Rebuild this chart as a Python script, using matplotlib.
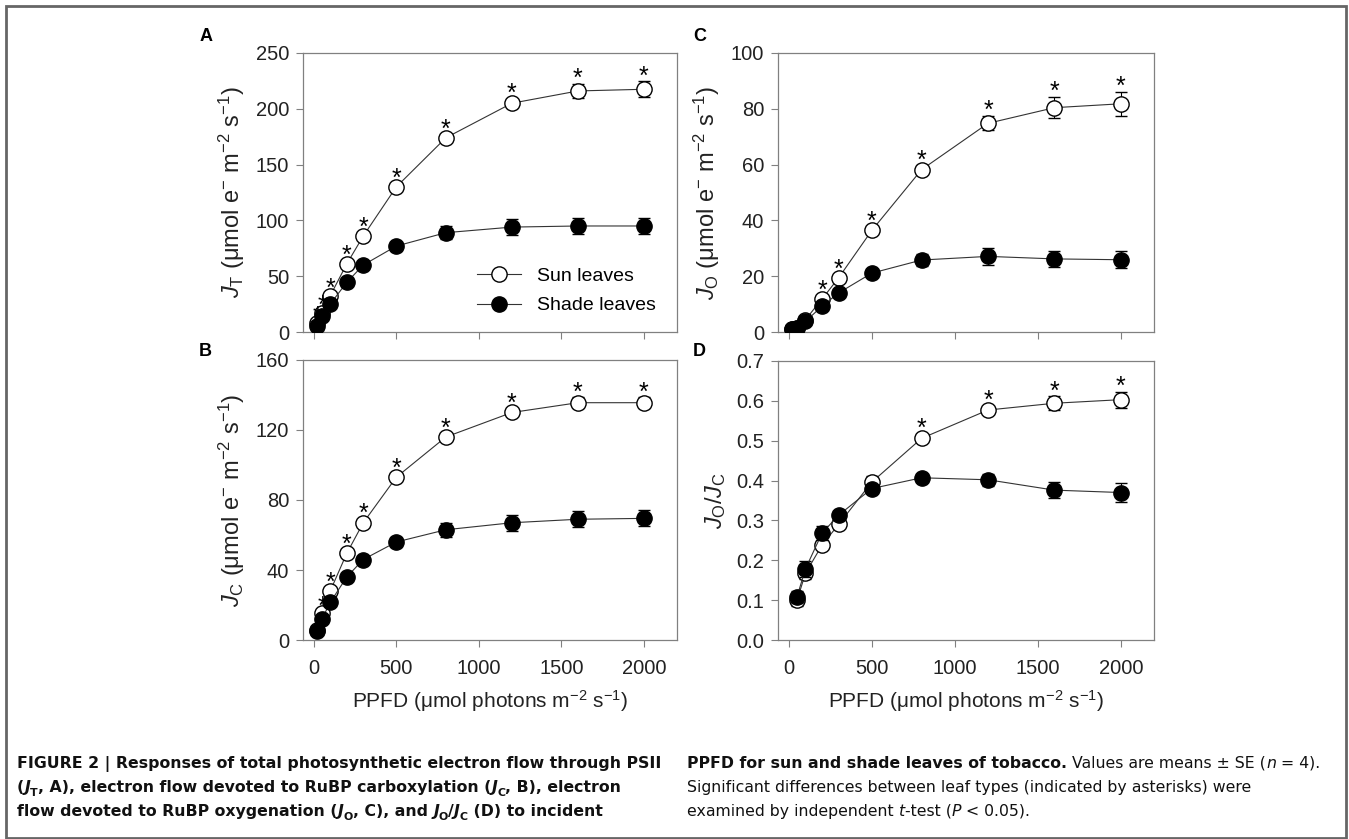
import numpy as np
import matplotlib
matplotlib.use('Agg')
import matplotlib.pyplot as plt
from matplotlib.lines import Line2D

plt.rcParams['font.family'] = ['Liberation Sans', 'DejaVu Sans']
plt.rcParams['mathtext.fontset'] = 'custom'
plt.rcParams['mathtext.rm'] = 'Liberation Sans'
plt.rcParams['mathtext.it'] = 'Liberation Sans:italic'
plt.rcParams['mathtext.bf'] = 'Liberation Sans:bold'

# data
ppfd = [20, 50, 100, 200, 300, 500, 800, 1200, 1600, 2000]

jt_sun = [8, 17, 32.5, 61, 86, 130, 174, 205, 216, 217.5]
jt_sun_se = [1, 1.5, 2, 2.5, 3, 3, 3, 4, 6, 7]
jt_shade = [5.7, 14, 25, 44.5, 60, 77, 89, 94, 95, 95]
jt_shade_se = [1, 1.5, 2, 2, 3, 4, 6, 7, 7, 7]
jt_star = [1, 1, 1, 1, 1, 1, 1, 1, 1, 1]

jc_sun = [6, 15.2, 28, 49.5, 67, 93, 116, 130, 135.6, 135.6]
jc_sun_se = [1, 1, 1.5, 2, 2, 2, 2, 2, 3, 3]
jc_shade = [5, 12, 21.5, 36, 46, 56, 63, 67, 69, 69.5]
jc_shade_se = [0.5, 1, 1, 1.5, 2, 3, 4, 4.5, 4.5, 4.5]
jc_star = [0, 1, 1, 1, 1, 1, 1, 1, 1, 1]

jo_sun = [1, 1.5, 4.4, 11.8, 19.4, 36.4, 58.2, 74.8, 80.4, 81.8]
jo_sun_se = [0.2, 0.3, 0.5, 1, 1, 1.2, 1.5, 2.5, 3.7, 4.4]
jo_shade = [1, 1.4, 3.8, 9.2, 14, 21.1, 25.8, 27.1, 26.2, 25.9]
jo_shade_se = [0.2, 0.3, 0.5, 0.8, 1, 1, 2, 3, 3, 3]
jo_star = [0, 0, 0, 1, 1, 1, 1, 1, 1, 1]

ratio_ppfd = [50, 100, 200, 300, 500, 800, 1200, 1600, 2000]
ratio_sun = [0.10, 0.167, 0.238, 0.29, 0.396, 0.506, 0.577, 0.594, 0.603]
ratio_sun_se = [0.015, 0.015, 0.01, 0.01, 0.015, 0.01, 0.01, 0.017, 0.02]
ratio_shade = [0.109, 0.178, 0.268, 0.313, 0.38, 0.407, 0.402, 0.376, 0.37]
ratio_shade_se = [0.015, 0.02, 0.018, 0.01, 0.01, 0.01, 0.015, 0.02, 0.025]
ratio_star = [0, 0, 0, 0, 0, 1, 1, 1, 1]

W, H = 1349, 839
fig = plt.figure(figsize=(W / 100, H / 100), dpi=100)

# figure border
fig.add_artist(plt.Rectangle((6 / W, 1 / H), 1340 / W, 832 / H, transform=fig.transFigure,
                             fill=False, edgecolor='#666666', lw=2))


def px_axes(l, t, r, b):
    return fig.add_axes([l / W, 1 - b / H, (r - l) / W, (b - t) / H])


axA = px_axes(303, 53, 677, 332)
axB = px_axes(303, 360, 677, 640)
axC = px_axes(778, 53, 1154, 332)
axD = px_axes(778, 361, 1154, 640)

spine_col = '#808080'


def panel(ax, x, sun, sun_se, shade, shade_se, star, ylim, yticks, ylabel, xlabels):
    ax.errorbar(x, sun, yerr=sun_se, fmt='-o', color='#333333', lw=0.8, mfc='white', mec='black',
                mew=1.0, ms=11, ecolor='black', elinewidth=0.8, capsize=4, capthick=0.8, zorder=3)
    ax.errorbar(x, shade, yerr=shade_se, fmt='-o', color='#333333', lw=0.8, mfc='black', mec='black',
                mew=1.0, ms=11, ecolor='black', elinewidth=0.8, capsize=4, capthick=0.8, zorder=4)
    for xi, yi, ei, s in zip(x, sun, sun_se, star):
        if s:
            ax.annotate('*', (xi, yi + ei), xytext=(0, -5), textcoords='offset points',
                        ha='center', va='bottom', fontsize=18, zorder=5)
    ax.set_xlim(-65, 2200)
    ax.set_ylim(*ylim)
    ax.set_yticks(yticks)
    ax.set_xticks([0, 500, 1000, 1500, 2000])
    if not xlabels:
        ax.set_xticklabels([])
    else:
        ax.set_xlabel('PPFD (μmol photons m$^{-2}$ s$^{-1}$)', fontsize=15, labelpad=7, color='#222222')
    ax.tick_params(direction='out', length=5, width=0.8, color=spine_col, labelsize=14.5,
                   labelcolor='#222222', pad=5)
    ax.tick_params(axis='x', pad=9)
    for sp in ax.spines.values():
        sp.set_color(spine_col)
        sp.set_linewidth(0.9)
    ax.set_ylabel(ylabel, fontsize=17, color='#222222', labelpad=6)


panel(axA, ppfd, jt_sun, jt_sun_se, jt_shade, jt_shade_se, jt_star, (0, 250), range(0, 251, 50),
      r'$J_{\mathrm{T}}$ (μmol e$^{-}$ m$^{-2}$ s$^{-1}$)', False)
panel(axB, ppfd, jc_sun, jc_sun_se, jc_shade, jc_shade_se, jc_star, (0, 160), range(0, 161, 40),
      r'$J_{\mathrm{C}}$ (μmol e$^{-}$ m$^{-2}$ s$^{-1}$)', True)
panel(axC, ppfd, jo_sun, jo_sun_se, jo_shade, jo_shade_se, jo_star, (0, 100), range(0, 101, 20),
      r'$J_{\mathrm{O}}$ (μmol e$^{-}$ m$^{-2}$ s$^{-1}$)', False)
panel(axD, ratio_ppfd, ratio_sun, ratio_sun_se, ratio_shade, ratio_shade_se, ratio_star, (0, 0.7),
      np.arange(0, 0.71, 0.1), r'$J_{\mathrm{O}}/J_{\mathrm{C}}$', True)
axD.set_yticklabels(['%.1f' % v for v in np.arange(0, 0.71, 0.1)])

# panel letters
for letter, lx, ly in [('A', 200, 41), ('B', 199, 356), ('C', 693, 41), ('D', 693, 356)]:
    fig.text(lx / W, 1 - ly / H, letter, fontsize=13, fontweight='bold', va='baseline', ha='left')

handles = [Line2D([], [], color='#333333', lw=0.8, marker='o', ms=11, mfc='white', mec='black'),
           Line2D([], [], color='#333333', lw=0.8, marker='o', ms=11, mfc='black', mec='black')]
axA.legend(handles, ['Sun leaves', 'Shade leaves'], loc='lower right', frameon=False, fontsize=14,
           handlelength=2.3, handletextpad=0.8, labelspacing=0.6, bbox_to_anchor=(0.99, 0.0))

# caption
cap_size = 11.3
cap_font = ['DejaVu Sans']
renderer = fig.canvas.get_renderer()


def runs(x, y, parts):
    for txt, kw in parts:
        kw = dict(kw)
        dy = 0
        size = cap_size
        if kw.pop('sub', False):
            dy = 4
            size = cap_size * 0.7
        t = fig.text(x / W, 1 - (y + dy) / H, txt, fontsize=size, va='baseline', ha='left',
                     color='#111111', family=cap_font, **kw)
        bb = t.get_window_extent(renderer)
        x += bb.width


B = {'fontweight': 'bold'}
BI = {'fontweight': 'bold', 'style': 'italic'}
BS = {'fontweight': 'bold', 'sub': True}
R = {}
I = {'style': 'italic'}
runs(17, 768, [('FIGURE 2 | Responses of total photosynthetic electron flow through PSII', B)])
runs(17, 792, [('(', B), ('J', BI), ('T', BS), (', A), electron flow devoted to RuBP carboxylation (', B),
               ('J', BI), ('C', BS), (', B), electron', B)])
runs(17, 816, [('flow devoted to RuBP oxygenation (', B), ('J', BI), ('O', BS), (', C), and ', B),
               ('J', BI), ('O', BS), ('/', B), ('J', BI), ('C', BS), (' (D) to incident', B)])
runs(687, 768, [('PPFD for sun and shade leaves of tobacco. ', B), ('Values are means ± SE (', R),
                ('n', I), (' = 4).', R)])
runs(687, 792, [('Significant differences between leaf types (indicated by asterisks) were', R)])
runs(687, 816, [('examined by independent ', R), ('t', I), ('-test (', R), ('P', I), (' < 0.05).', R)])

fig.savefig('out.png', dpi=100)
